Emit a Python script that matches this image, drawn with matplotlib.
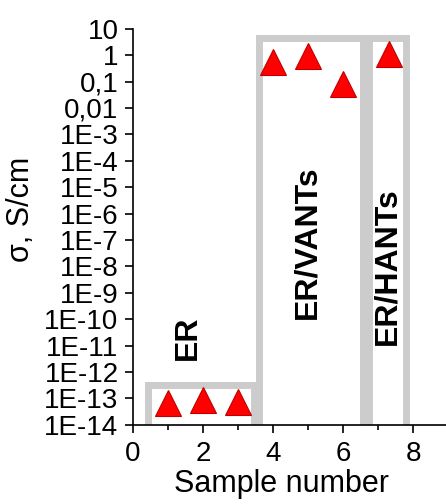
import numpy as np
import matplotlib
matplotlib.use('Agg')
import matplotlib.pyplot as plt
from matplotlib.patches import Rectangle
from matplotlib.ticker import FixedLocator, FixedFormatter, MultipleLocator

plt.rcParams['font.family'] = ['Liberation Sans', 'DejaVu Sans']

############################################################
##                       Data                             ##
############################################################

sample_x = [1, 2, 3, 4, 5, 6, 7.3]
sigma = [7e-14, 9e-14, 7.5e-14, 0.54, 0.95, 0.083, 1.1]

ytick_vals = [10.0 ** p for p in range(1, -15, -1)]
ytick_labels = ['10', '1', '0,1', '0,01'] + ['1E%d' % p for p in range(-3, -15, -1)]

# group boxes: (x0, x1, top) and labels (text, x, y)
groups = ['ER', 'ER/VANTs', 'ER/HANTs']
box_x0 = [0.43, 3.59, 6.73]
box_x1 = [3.46, 6.56, 7.81]
box_top = [3.3e-13, 4.4, 4.4]
label_x = [1.57, 4.97, 7.27]
label_y = [2e-11, 8e-8, 1e-8]

############################################################
##                       Plot                             ##
############################################################

fig = plt.figure(figsize=(4.46, 5.04), dpi=100)
ax = fig.add_axes([0.298, 0.157, 0.702, 0.786])

for x0, x1, top in zip(box_x0, box_x1, box_top):
    r = Rectangle((x0, 1e-16), x1 - x0, top - 1e-16, fill=False,
                  edgecolor='#cccccc', linewidth=5, zorder=1)
    ax.add_patch(r)

ax.plot(sample_x, sigma, linestyle='none', marker='^', markersize=19,
        markerfacecolor='#ff0000', markeredgecolor='#c00000',
        markeredgewidth=0.8, zorder=3)

for txt, lx, ly in zip(groups, label_x, label_y):
    ax.text(lx, ly, txt, rotation=90, ha='center', va='center',
            fontsize=23, fontweight='bold')

ax.set_yscale('log')
ax.set_ylim(1e-14, 10)
ax.set_xlim(0, 8.94)

ax.yaxis.set_major_locator(FixedLocator(ytick_vals))
ax.yaxis.set_major_formatter(FixedFormatter(ytick_labels))
ax.yaxis.set_minor_locator(FixedLocator([]))
ax.xaxis.set_major_locator(FixedLocator([0, 2, 4, 6, 8]))
ax.xaxis.set_minor_locator(MultipleLocator(1))

ax.tick_params(axis='both', which='major', direction='out', length=5.8,
               width=1.2, labelsize=20)
ax.tick_params(axis='y', which='major', pad=4.5)
ax.tick_params(axis='x', which='major', pad=5.5)
ax.tick_params(axis='x', which='minor', direction='out', length=3.5, width=1.2)

ax.spines['top'].set_visible(False)
ax.spines['right'].set_visible(False)
ax.spines['left'].set_linewidth(1.2)
ax.spines['bottom'].set_linewidth(1.2)

ax.set_xlabel('Sample number', fontsize=22)
ax.set_ylabel('σ, S/cm', fontsize=22)
ax.xaxis.set_label_coords(0.476, -0.112)
ax.yaxis.set_label_coords(-0.31, 0.543)

plt.savefig('out.png', dpi=100)
